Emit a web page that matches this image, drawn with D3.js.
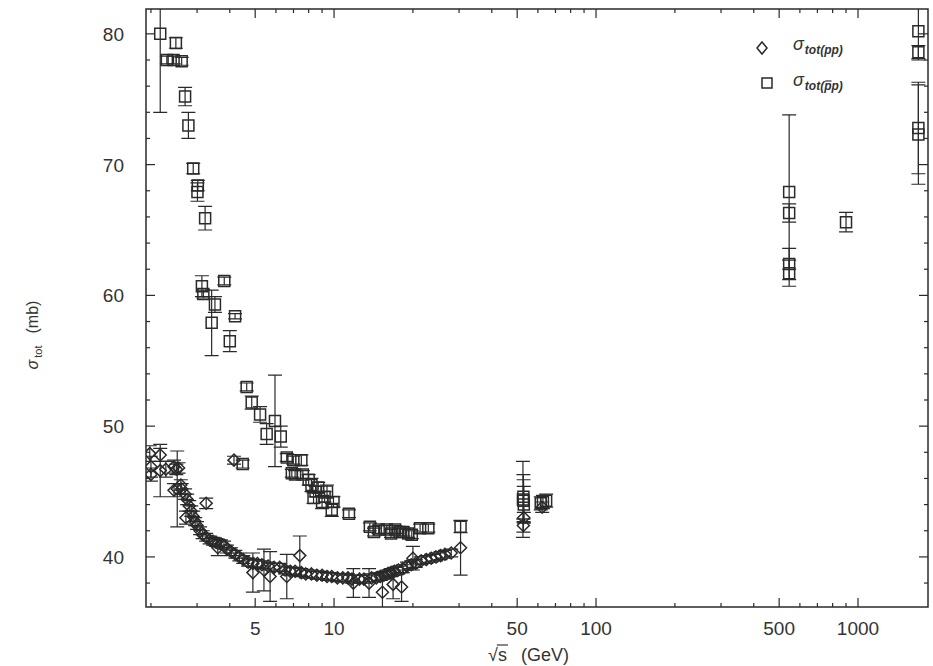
<!DOCTYPE html>
<html>
<head>
<meta charset="utf-8">
<script src="https://cdn.jsdelivr.net/npm/d3@7"></script>
<style>
  body { margin: 0; background: #fff; }
  svg text { font-family: "Liberation Sans", Arial, sans-serif; fill: #333; }
</style>
</head>
<body>
<svg id="chart"></svg>
<script>
// [sqrt(s) GeV, sigma mb, error mb]
var ppData = [
  [1.98, 47.9, 0.6], [2.0, 46.9, 0.8], [2.0, 46.3, 0.5], [2.17, 47.8, 0.5], [2.17, 46.6, 2.0],
  [2.28, 46.7, 0.6], [2.45, 46.9, 0.5], [2.5, 46.7, 0.4], [2.55, 46.8, 0.4], [2.52, 45.2, 2.9],
  [2.45, 45.1, 0.5], [2.6, 45.5, 0.4], [2.62, 45.2, 0.4], [2.7, 44.8, 0.4], [2.75, 44.4, 0.4],
  [2.8, 43.9, 0.4], [2.85, 43.5, 0.4], [2.72, 43.0, 0.5], [2.9, 43.1, 0.4], [2.95, 42.7, 0.3],
  [3.0, 42.4, 0.3], [3.08, 42.0, 0.3], [3.15, 41.7, 0.3], [3.25, 44.1, 0.4], [3.25, 41.5, 0.3],
  [3.35, 41.3, 0.3], [3.45, 41.2, 0.3], [3.55, 41.1, 0.3], [3.6, 40.7, 0.6], [3.7, 41.0, 0.3],
  [3.8, 40.9, 0.3], [3.9, 40.6, 0.3], [4.05, 40.4, 0.3], [4.15, 47.4, 0.3], [4.2, 40.2, 0.3],
  [4.35, 40.0, 0.3], [4.5, 39.8, 0.3], [4.7, 39.6, 0.3], [4.9, 39.5, 0.3], [4.9, 38.8, 1.5],
  [5.1, 39.5, 0.3], [5.3, 39.4, 0.3], [5.4, 39.0, 1.6], [5.6, 39.3, 0.3], [5.7, 38.5, 1.9],
  [5.9, 39.2, 0.3], [6.2, 39.2, 0.3], [6.5, 39.0, 0.3], [6.6, 38.5, 1.7], [6.8, 38.9, 0.3],
  [7.1, 38.9, 0.3], [7.4, 40.1, 1.5], [7.5, 38.8, 0.3], [7.8, 38.7, 0.3], [8.2, 38.7, 0.3],
  [8.6, 38.6, 0.3], [9.0, 38.6, 0.3], [9.4, 38.5, 0.3], [9.8, 38.5, 0.3], [10.3, 38.4, 0.3],
  [10.8, 38.4, 0.3], [11.3, 38.4, 0.3], [11.85, 38.0, 1.1], [11.7, 38.3, 0.3], [12.5, 38.3, 0.3],
  [13.0, 38.3, 0.3], [13.6, 38.0, 1.1], [13.9, 38.4, 0.3], [14.5, 38.4, 0.3], [15.0, 38.5, 0.3],
  [15.3, 37.3, 1.3], [15.5, 38.6, 0.3], [16.0, 38.7, 0.3], [16.5, 38.8, 0.3], [16.8, 37.9, 1.1],
  [17.0, 38.9, 0.3], [17.6, 39.0, 0.3], [18.1, 37.7, 1.1], [18.3, 39.1, 0.3], [19.0, 39.3, 0.3],
  [19.7, 39.4, 0.3], [20.0, 39.9, 0.9], [20.5, 39.5, 0.3], [21.5, 39.7, 0.3], [22.5, 39.8, 0.3],
  [23.5, 39.9, 0.3], [24.5, 40.0, 0.3], [25.5, 40.1, 0.3], [26.5, 40.2, 0.3], [28.0, 40.3, 0.3],
  [30.4, 40.7, 2.1], [52.8, 42.4, 0.5], [53.0, 43.0, 0.4], [62.3, 43.8, 0.4]
];

var pbarpData = [
  [2.17, 80.0, 6.0], [2.49, 79.3, 0.4], [2.3, 78.0, 0.3], [2.44, 78.0, 0.3], [2.62, 77.9, 0.3],
  [2.7, 75.2, 0.7], [2.78, 73.0, 1.0], [2.9, 69.7, 0.4], [3.01, 67.9, 0.7], [3.02, 68.4, 0.4],
  [3.22, 65.9, 0.9], [3.13, 60.7, 0.8], [3.17, 60.1, 0.3], [3.81, 61.1, 0.3], [3.51, 59.3, 0.6],
  [3.41, 57.9, 2.5], [4.19, 58.4, 0.2], [4.0, 56.5, 0.8], [4.48, 47.1, 0.3], [4.64, 53.0, 0.3],
  [4.85, 51.8, 0.5], [5.22, 50.9, 0.6], [5.95, 50.4, 3.5], [5.53, 49.4, 0.8], [6.26, 49.2, 0.8],
  [6.6, 47.6, 0.3], [6.99, 47.4, 0.3], [7.5, 47.4, 0.4], [6.9, 46.4, 0.3], [7.1, 46.3, 0.3],
  [7.6, 46.3, 0.3], [8.0, 45.9, 0.4], [8.2, 45.5, 0.5], [8.5, 45.0, 0.4], [8.7, 45.3, 0.4],
  [9.4, 45.0, 0.5], [8.35, 44.5, 0.4], [9.2, 44.6, 0.4], [9.0, 44.2, 0.5], [9.95, 44.2, 0.4],
  [9.8, 43.6, 0.5], [11.4, 43.3, 0.3], [13.7, 42.3, 0.3], [14.2, 41.9, 0.3], [14.8, 42.1, 0.3],
  [15.9, 42.1, 0.3], [16.5, 41.8, 0.3], [17.1, 42.1, 0.3], [17.8, 41.9, 0.3], [18.4, 41.9, 0.3],
  [19.2, 41.8, 0.3], [19.8, 41.7, 0.3], [21.3, 42.2, 0.3], [22.9, 42.2, 0.3], [30.4, 42.3, 0.45],
  [52.6, 44.4, 2.9], [52.8, 44.6, 1.7], [53.0, 44.0, 1.4], [52.9, 44.3, 1.6],
  [61.5, 44.1, 0.5], [62.7, 44.2, 0.5], [64.5, 44.3, 0.5],
  [546, 67.9, 5.9], [546, 66.3, 0.7], [546, 62.4, 1.2], [546, 61.7, 1.0],
  [900, 65.6, 0.75],
  [1700, 80.2, 2.2], [1700, 78.6, 0.5], [1700, 72.8, 3.5], [1700, 72.3, 3.8]
];

var xTickLabels = [5, 10, 50, 100, 500, 1000];
var yTickLabels = [40, 50, 60, 70, 80];

var W = 933, H = 666;
var margin = { top: 9, right: 5, bottom: 59, left: 146 },
    width = W - margin.left - margin.right,
    height = H - margin.top - margin.bottom;

var svg = d3.select("#chart").attr("width", W).attr("height", H);
var g = svg.append("g").attr("transform", "translate(" + margin.left + "," + margin.top + ")");

var x = d3.scaleLog().domain([1.915, 1850]).range([0, width]);
var y = d3.scaleLinear().domain([36.17, 81.9]).range([height, 0]);

g.append("clipPath").attr("id", "clip")
  .append("rect").attr("width", width).attr("height", height);

var ink = "#2a2a2a";

// ticks, pointing inward on all four sides
var xt = x.ticks().filter(function (d) { return d > x.domain()[0] && d < x.domain()[1]; });
var yt = y.ticks(20);
var tickG = g.append("g").attr("stroke", ink).attr("stroke-width", 1.2);
xt.forEach(function (d) {
  var len = xTickLabels.indexOf(d) >= 0 ? 9 : 4;
  tickG.append("line").attr("x1", x(d)).attr("x2", x(d)).attr("y1", height).attr("y2", height - len);
  tickG.append("line").attr("x1", x(d)).attr("x2", x(d)).attr("y1", 0).attr("y2", len);
});
yt.forEach(function (d) {
  var len = yTickLabels.indexOf(d) >= 0 ? 9 : 4;
  tickG.append("line").attr("y1", y(d)).attr("y2", y(d)).attr("x1", 0).attr("x2", len);
  tickG.append("line").attr("y1", y(d)).attr("y2", y(d)).attr("x1", width).attr("x2", width - len);
});

g.append("rect").attr("width", width).attr("height", height)
  .attr("fill", "none").attr("stroke", ink).attr("stroke-width", 1.5);

// tick labels
g.selectAll(".xl").data(xTickLabels).enter().append("text")
  .attr("x", function (d) { return x(d); })
  .attr("y", height + 28)
  .attr("text-anchor", "middle")
  .style("font-size", "19px")
  .text(function (d) { return d; });

g.selectAll(".yl").data(yTickLabels).enter().append("text")
  .attr("x", -22)
  .attr("y", function (d) { return y(d) + 7; })
  .attr("text-anchor", "end")
  .style("font-size", "19px")
  .text(function (d) { return d; });

// axis titles
var xTitle = svg.append("text").attr("x", 488).attr("y", 661).style("font-size", "18px");
xTitle.append("tspan").text("\u221A");
xTitle.append("tspan").text("s");
xTitle.append("tspan").attr("dx", 14).text("(GeV)");
var tn = xTitle.node();
var s0 = tn.getStartPositionOfChar(1).x, s1 = tn.getEndPositionOfChar(1).x;
svg.append("line").attr("x1", s0 - 1).attr("x2", s1 + 1).attr("y1", 645).attr("y2", 645)
  .attr("stroke", "#333").attr("stroke-width", 1.2);

var yTitle = svg.append("text").attr("transform", "translate(38,335) rotate(-90)")
  .attr("text-anchor", "middle").style("font-size", "16px");
yTitle.append("tspan").style("font-style", "italic").text("\u03c3");
yTitle.append("tspan").attr("dy", 4).attr("dx", 2).style("font-size", "11px").text("tot");
yTitle.append("tspan").attr("dy", -4).attr("dx", 12).text("(mb)");

// error bars and markers
var plot = g.append("g").attr("clip-path", "url(#clip)");

function drawSeries(data, shape) {
  var s = plot.append("g").attr("stroke", ink).attr("fill", "none");
  s.selectAll(".eb").data(data).enter().append("path")
    .attr("stroke-width", 1.2)
    .attr("d", function (d) {
      var cx = x(d[0]), y0 = y(d[1] - d[2]), y1 = y(d[1] + d[2]);
      return "M" + cx + "," + y0 + "V" + y1 +
        "M" + (cx - 7) + "," + y0 + "H" + (cx + 7) +
        "M" + (cx - 7) + "," + y1 + "H" + (cx + 7);
    });
  s.selectAll(".mk").data(data).enter().append("path")
    .attr("stroke-width", 1.5)
    .attr("fill", "none")
    .attr("d", function (d) {
      var cx = x(d[0]), cy = y(d[1]);
      if (shape === "square") {
        return "M" + (cx - 5.5) + "," + (cy - 5.5) + "h11v11h-11z";
      }
      return "M" + cx + "," + (cy - 6) + "L" + (cx + 6) + "," + cy + "L" + cx + "," + (cy + 6) + "L" + (cx - 6) + "," + cy + "Z";
    });
}
drawSeries(ppData, "diamond");
drawSeries(pbarpData, "square");

// legend
var leg = svg.append("g").attr("stroke", ink).attr("fill", "none").attr("stroke-width", 1.5);
leg.append("path").attr("d", "M762,42L767,48L762,54L757,48Z");
leg.append("rect").attr("x", 762).attr("y", 78).attr("width", 10).attr("height", 10);

function legendText(yy, sub, barOver) {
  var t = svg.append("text").attr("x", 793).attr("y", yy).style("font-size", "18px");
  t.append("tspan").style("font-style", "italic").text("\u03c3");
  t.append("tspan").attr("dy", 4).attr("dx", 1).style("font-size", "12px")
    .style("font-style", "italic").style("font-weight", "bold").text(sub);
  if (barOver >= 0) {
    var n = t.node();
    var a = n.getStartPositionOfChar(barOver).x, b = n.getEndPositionOfChar(barOver).x;
    svg.append("line").attr("x1", a + 1).attr("x2", b).attr("y1", yy - 5).attr("y2", yy - 5)
      .attr("stroke", "#333").attr("stroke-width", 1.2);
  }
}
legendText(50, "tot(pp)", -1);
legendText(86, "tot(pp)", 5);
</script>
</body>
</html>
